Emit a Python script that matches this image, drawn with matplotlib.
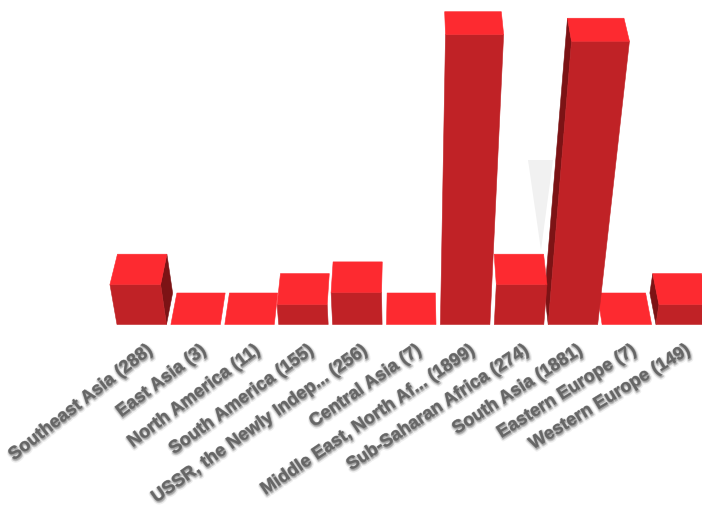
import numpy as np
import matplotlib
matplotlib.use('Agg')
from matplotlib import pyplot as plt
from matplotlib.patches import Polygon
import matplotlib.patheffects as pe

categories = ['Southeast Asia (288)', 'East Asia (3)', 'North America (11)', 'South America (155)',
              'USSR, the Newly Indep... (256)', 'Central Asia (7)', 'Middle East, North Af... (1899)',
              'Sub-Saharan Africa (274)', 'South Asia (1881)', 'Eastern Europe (7)', 'Western Europe (149)']
# heights as drawn in the picture, they are coarser than the numbers in the labels
values = [262, 0, 0, 131, 210, 0, 1899, 262, 1855, 0, 131]

# camera, fitted by eye
CX = 411.0
BASE_Y = 324.5
DEPTH_PX = 31.5
PX_PER_UNIT = 290 / 1899
START = 117.0
STEP = 53.9
WIDTH = 49.5

TOP = '#fd2a30'
FRONT = '#c02226'
SIDE = '#7c1315'


def project(x, d, h):
    # x along the front edge, d depth 0..1, h height in px
    s = (1 - 0.025 * d) * (1 + 0.0006 * h)
    return CX + (x - CX) * s, BASE_Y - DEPTH_PX * d - h * (1 - 0.03 * d)


def draw_bar(ax, x0, val):
    x1 = x0 + WIDTH
    h = val * PX_PER_UNIT
    if h > 0:
        # side facing the middle of the chart
        xs = x1 if x1 < CX else x0
        if abs(xs - CX) > 90:
            side = [project(xs, 0, 0), project(xs, 1, 0), project(xs, 1, h), project(xs, 0, h)]
            ax.add_patch(Polygon(side, facecolor=SIDE, edgecolor=SIDE, linewidth=0.4))
        front = [project(x0, 0, 0), project(x1, 0, 0), project(x1, 0, h), project(x0, 0, h)]
        ax.add_patch(Polygon(front, facecolor=FRONT, edgecolor=FRONT, linewidth=0.4))
    top = [project(x0, 0, h), project(x1, 0, h), project(x1, 1, h), project(x0, 1, h)]
    ax.add_patch(Polygon(top, facecolor=TOP, edgecolor=TOP, linewidth=0.4))


def main():
    fig = plt.figure(figsize=(7.02, 5.08), dpi=100)
    ax = fig.add_axes([0, 0, 1, 1])
    ax.set_xlim(0, 702)
    ax.set_ylim(508, 0)
    ax.axis('off')

    # pale reflection behind the tall bars
    ax.add_patch(Polygon([(528, 160), (553, 160), (541, 250)], facecolor='#f1f1f1', edgecolor='none'))

    xpos = START + STEP * np.arange(len(values))
    # outer bars first so the inner ones lean over them
    order = np.argsort(-np.abs(xpos + WIDTH / 2 - CX))
    for i in order:
        draw_bar(ax, xpos[i], values[i])

    shadow = [pe.Stroke(linewidth=3.2, foreground='#888888', alpha=0.14, offset=(0.6, -1.2)),
              pe.Stroke(linewidth=1.6, foreground='#666666', alpha=0.28, offset=(0.5, -1.0)),
              pe.Stroke(linewidth=0.5, foreground='#777777', alpha=0.5),
              pe.Normal()]
    angles = np.linspace(38, 31.5, len(categories))
    for i, label in enumerate(categories):
        ax.text(xpos[i] + WIDTH / 2 + 3, 342, label, rotation=angles[i], rotation_mode='anchor',
                ha='right', va='top', fontsize=13, family='Liberation Sans', fontweight='bold',
                color='#666666', path_effects=shadow)

    fig.savefig('out.png', dpi=100)


if __name__ == '__main__':
    main()
